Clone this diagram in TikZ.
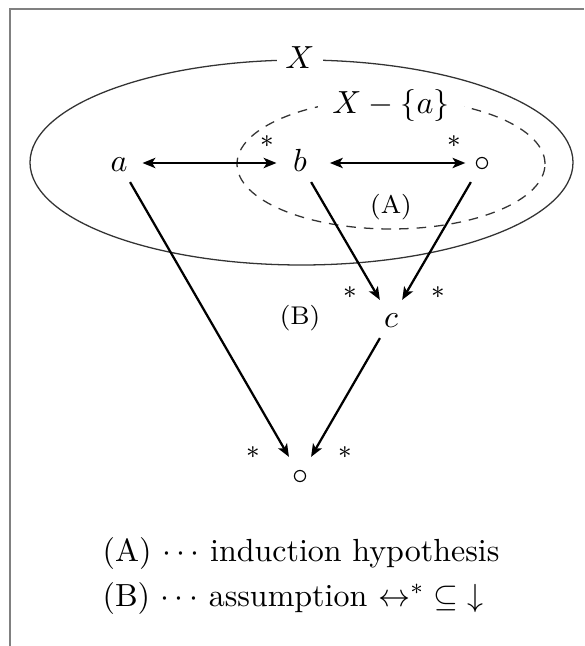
\documentclass[tikz,border=0pt]{standalone}
\usetikzlibrary{arrows.meta}

\tikzset{
  vtx/.style={inner sep=2pt, text height=1.5ex, text depth=0.25ex},
  conv/.style={line width=0.7pt, -{Stealth[length=4pt, width=3.2pt, inset=1pt]}},
  conn/.style={line width=0.7pt, {Stealth[length=4pt, width=3.2pt, inset=1pt]}-{Stealth[length=4pt, width=3.2pt, inset=1pt]}},
  starmark/.style={font=\footnotesize, inner sep=0pt},
  setname/.style={fill=white, inner sep=2.8pt},
  region/.style={font=\footnotesize},
}

\begin{document}
\begin{tikzpicture}[x=31.25pt, y=31.25pt]
  \useasboundingbox (0,0) rectangle (5.84,6.46);

  % frame (only the top and left edges are in view)
  \draw[gray, thin] (0.10,0) -- (0.10,6.37) -- (5.84,6.37);

  % the set X and the set X - {a}
  \draw[thin, black!80] (3.015,4.835) ellipse [x radius=2.715, y radius=1.025];
  \draw[thin, black!80, dash pattern=on 3pt off 2.5pt]
    (3.91,4.82) ellipse [x radius=1.54, y radius=0.65];
  \node[setname] (X) at (3.00,5.88) {$X$};
  \node[setname, inner xsep=4.5pt, inner ysep=0.5pt] (Xa) at (3.91,5.40) {$X-\{a\}$};

  % elements
  \node[vtx] (a) at (1.19,4.83) {$a$};
  \node[vtx] (b) at (3.00,4.83) {$b$};
  \node[vtx] (o1) at (4.82,4.83) {$\circ$};
  \node[vtx] (c) at (3.91,3.27) {$c$};
  \node[vtx] (o2) at (3.00,1.70) {$\circ$};

  % conversions and reductions
  \draw[conn, shorten <=2.5pt, shorten >=3pt] (a) -- (b);
  \draw[conn, shorten <=5pt, shorten >=0.5pt] (b) -- (o1);
  \draw[conv] (b) -- (c);
  \draw[conv] (o1) -- (c);
  \draw[conv] (a) -- (o2);
  \draw[conv] (c) -- (o2);

  % closure marks
  \node[starmark] (sb) at (2.67,5.04) {$*$};
  \node[starmark] (so) at (4.54,5.04) {$*$};
  \node[starmark] (sc1) at (3.50,3.53) {$*$};
  \node[starmark] (sc2) at (4.38,3.53) {$*$};
  \node[starmark] (sd1) at (2.53,1.93) {$*$};
  \node[starmark] (sd2) at (3.45,1.93) {$*$};

  % regions
  \node[region] (A) at (3.91,4.39) {(A)};
  \node[region] (B) at (3.00,3.28) {(B)};

  % legend
  \node[align=left] (legend) at (3.01,0.70)
    {(A) $\cdots$ induction hypothesis\\[1.75pt]
     (B) $\cdots$ assumption ${\leftrightarrow^{*}}\subseteq{\downarrow}$};
\end{tikzpicture}
\end{document}
